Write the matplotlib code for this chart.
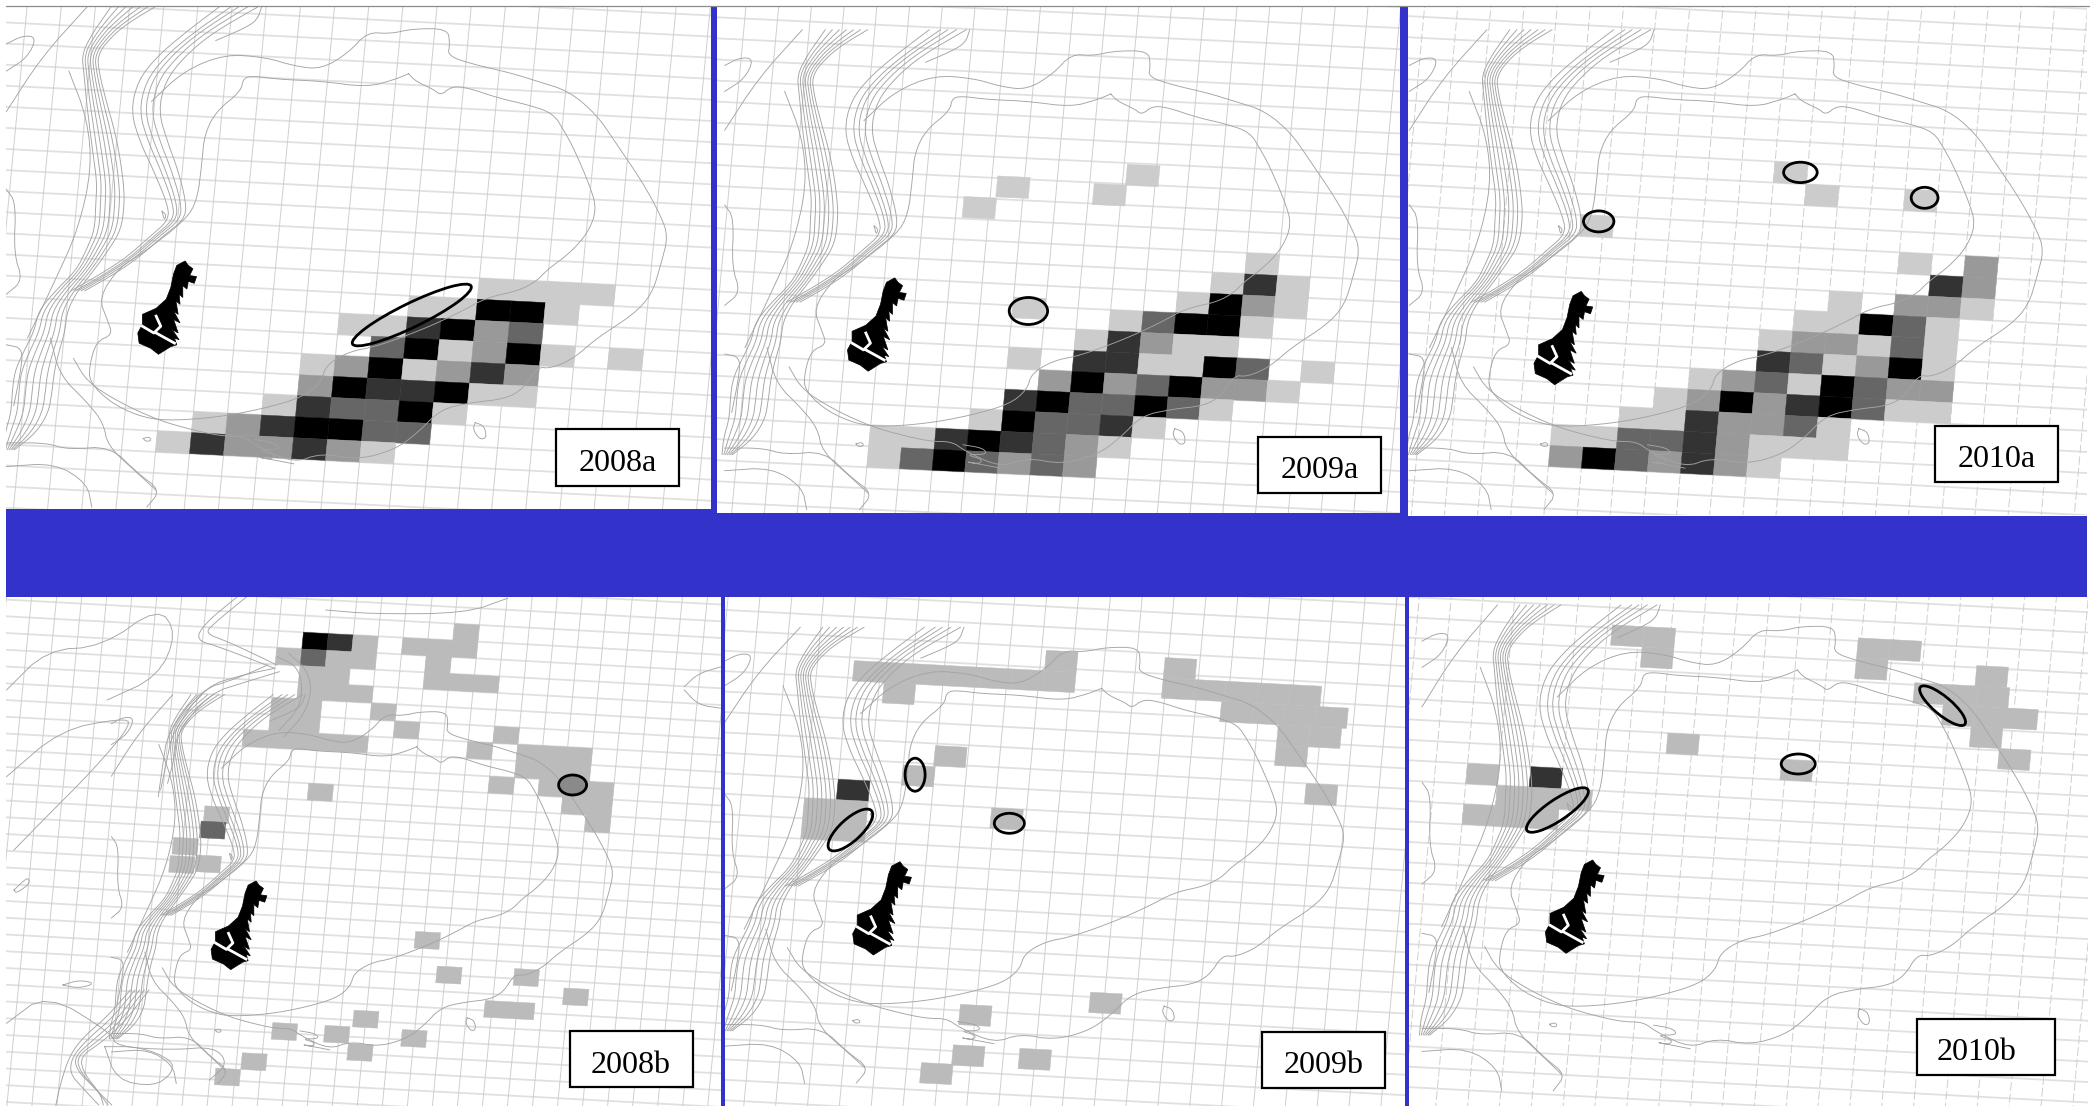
import matplotlib
matplotlib.use("Agg")
import matplotlib.pyplot as plt
from matplotlib.collections import PolyCollection, LineCollection
from matplotlib.patches import Ellipse, Rectangle, Polygon
import numpy as np

BLUE = "#3333cc"
W, H = 2100, 1106

# ---- cell data: grid column, grid row, density class (1 light .. 5 black)
cols_2008a = [0,1,2,3, -2,-1,0,1,2, -4,-3,-2,-1,0,1, -3,-2,-1,0,1,2,4, -5,-4,-3,-2,-1,0,1,
              -5,-4,-3,-2,-1,0,1, -6,-5,-4,-3,-2,-1, -8,-7,-6,-5,-4,-3,-2, -9,-8,-7,-6,-5,-4,-3]
rows_2008a = [-1]*4 + [0]*5 + [1]*6 + [2]*7 + [3]*7 + [4]*7 + [5]*6 + [6]*7 + [7]*7
levels_2008a = [1,1,1,1, 1,1,5,5,1, 1,1,4,5,2,3, 3,5,1,2,5,1,1, 1,2,5,1,2,4,2,
                2,5,4,4,5,1,1, 1,4,3,3,5,1, 1,2,4,5,5,3,3, 1,4,2,2,4,2,1]

cols_2009a = [-6.83,-7.8,-3.86,-2.9, 1, 0,1,2, -1,0,1,2, -6,-3,-2,-1,0,1, -4,-3,-2,-1,0,
              -6,-4,-3,-2,-1,0,1,3, -5,-4,-3,-2,-1,0,1,2, -6,-5,-4,-3,-2,-1,0, -7,-6,-5,-4,-3,-2,
              -10,-9,-8,-7,-6,-5,-4,-3, -10,-9,-8,-7,-6,-5,-4]
rows_2009a = [-5.1,-4.05,-4.95,-5.94, -2] + [-1]*3 + [0]*4 + [0.6] + [1]*5 + [2]*5 + [3]*8 + [4]*8 + [5]*7 + [6]*6 + [7]*8 + [8]*7
levels_2009a = [1,1,1,1, 1, 1,4,1, 1,5,2,1, 1,1,3,5,5,1, 1,4,2,1,1,
                1,4,4,1,1,5,3,1, 2,5,2,3,5,2,2,1, 4,5,3,3,5,3,1, 1,5,3,3,4,1,
                1,1,4,5,4,3,2,1, 1,3,5,3,2,3,2]

cols_2010a = [-3,-2,1,-8.7, 1,3, 2,3, -1,1,2,3, -2,-1,0,1,2, -3,-2,-1,0,1,2, -3,-2,-1,0,1,2,
              -5,-4,-3,-2,-1,0,1,2, -6,-5,-4,-3,-2,-1,0,1,2, -7,-6,-5,-4,-3,-2,-1,
              -9,-8,-7,-6,-5,-4,-3,-2,-1, -9,-8,-7,-6,-5,-4,-3]
rows_2010a = [-7,-6,-6,-4] + [-3]*2 + [-2]*2 + [-1]*4 + [0]*5 + [1]*6 + [2]*6 + [3]*8 + [4]*9 + [5]*7 + [6]*9 + [7]*7
levels_2010a = [1,1,1,1, 1,2, 4,2, 1,2,2,1, 1,1,5,3,1, 1,2,2,1,3,1, 4,3,1,2,5,1,
                1,2,3,1,5,3,2,2, 1,2,5,2,4,5,3,1,1, 1,1,4,2,2,3,1,
                1,1,3,3,4,2,1,1,1, 2,5,3,2,4,2,1]

cols_2008b = [0,1,2,6,4,5,6, -1,0,1,2,5, 0,1,5,6,7, 0,1,2, -1,0,3, -1,0,4,8,
              -2,-1,0,1,2,7,9,10,11, 9,10,11, 8,10,11,12, 11,12, 12, 0.8,
              -3.26,-3.35,-4.39,-4.45,-3.4,
              5.65,6.65,9.75,11.8,8.7,9.7,3.5,0.3,2.4,5.5,3.4,-0.8,-1.8]
rows_2008b = [0,0,0,-1,0,0,0, 1,1,1,1,1, 2,2,2,2,2, 3,3,3, 4,4,4, 5,5,5,5,
              6,6,6,6,6,6,6,6,6, 7,7,7, 8,8,8,8, 9,9, 10, 9,
              10.68,11.6,12.66,13.76,13.64,
              17.5,19.5,19.4,20.4,21.4,21.4,22.4,23.4,23.4,23.4,24.4,25.3,26.3]
levels_2008b = [5,4,1,1,1,1,1, 1,3,1,1,1, 1,1,1,1,1, 1,1,1, 1,1,1, 1,1,1,1,
                1,1,1,1,1,1,1,1,1, 1,1,1, 1,1,1,1, 1,1, 1, 1,
                1,3,1,1,1, 1,1,1,1,1,1,1,1,1,1,1,1,1]

cols_2009b = [0, -1,0,-1,0, 0.15,1.15,2.15,3.15,4.15,5.15,6.15, 6.15, 1.15, 2.95, 2, 4.9,
              9.9, 9.9,10.9,11.9,12.9,13.9, 11.8,12.8,13.8,14.8, 13.65,14.65, 13.65, 14.7,
              8.55,4.5,4.4,6.5,3.45]
rows_2009b = [0, 1,1,2,2, -5.85,-5.85,-5.85,-5.85,-5.85,-5.85,-5.85, -6.85, -4.85, -1.9, -0.87, 1,
              -6.8, -5.8,-5.8,-5.8,-5.8,-5.8, -4.8,-4.8,-4.8,-4.8, -3.8,-3.8, -2.8, -1,
              9.77,10.7,12.7,12.7,13.65]
levels_2009b = [4] + [1]*35

cols_2010b = [0, -2, -1,0,1, -2,-1,0, 2.14,3.14,3.14, 4.2, 7.85,
              9.9,10.9,9.9, 13.7, 11.8,12.8,13.8, 12.76,13.76,14.76, 13.7, 14.65]
rows_2010b = [0, 0, 1,1,1, 2,2,2, -7.15,-7.15,-6.15, -2, -1,
              -7.15,-7.15,-6.15, -6.1, -5.1,-5.1,-5.1, -4.1,-4.1,-4.1, -3.1, -2.1]
levels_2010b = [4] + [1]*24

# ---- bathymetry contours (map units shared by all panels)
inner_x = [890,905,945,960,985,1020,1085,1150,1205,1230,1250,1285,1300,1280,1240,1190,1170,1130,1060,1000,920,820,760,710,700,660,570,470,360,300,240,195,195,210,245,235,215,260,310,405,430,440,445,470,525,530,555,610,700,800,860,890]
inner_y = [218,240,265,282,255,260,290,310,335,390,440,550,620,690,750,800,830,860,880,925,975,1025,1040,1080,1130,1175,1210,1235,1245,1230,1190,1130,1080,1010,990,950,880,790,750,650,590,480,400,330,270,230,225,235,240,258,235,218]
outer_x = [330,400,490,580,640,700,760,800,850,900,975,980,975,1030,1110,1170,1240,1300,1340,1400,1440,1455,1440,1420,1380,1300,1250,1200,1170,1140,1100,1030,960,910,860,780,700,640,560,530,480,400,340,260,190,160]
outer_y = [300,210,160,170,195,205,155,95,100,85,85,130,165,190,215,240,270,340,420,540,640,700,780,870,930,1000,1060,1090,1085,1150,1180,1190,1210,1280,1330,1360,1340,1370,1320,1290,1290,1265,1240,1190,1130,1060]
bundle1_x = [290,255,225,195,200,210,222,232,240,240,235,212,185,145,115,108,90,75,70,65,45,20]
bundle1_y = [20,60,100,160,220,300,380,460,540,600,680,740,800,860,920,980,1040,1100,1160,1220,1280,1330]
bundle1_spread = [2,1.4,1,.7,.7,.9,1.1,1.2,1.2,1.3,1.2,1,.8,1,1.3,1.4,1.6,1.8,1.8,1.7,1.4,.5]
bundle1_offsets = [-24,-16,-8,0,8,16,24]
bundle2_x = [520,430,370,330,315,335,360,385,385,340,290,235,170]
bundle2_y = [20,100,170,240,330,420,500,600,650,700,760,810,860]
bundle2_spread = [1.4,1,1,1,1,1,.9,.7,.55,.45,.45,.5,.5]
bundle2_offsets = [-30,-12,0,14,30]
left_lines = [
    ([190,90,14], [20,170,330]),
    ([14,50,80,60,14], [130,105,110,170,210]),
    ([150,190,200,170,120,60], [210,350,500,680,830,1000]),
    ([14,35,30,50,14], [560,600,750,830,870]),
    ([14,50,45,30], [1020,1030,1100,1200]),
    ([110,130,190,225,235,300,340], [1000,1110,1190,1250,1320,1400,1450]),
    ([14,120,190,200], [1380,1370,1430,1500]),
    ([14,100,150,240,300,350,320], [1310,1310,1330,1320,1400,1450,1500]),
    ([570,560,530,470], [20,60,85,120]),
    ([1035,1055,1060,1045,1030,1035], [1250,1260,1295,1300,1270,1250]),
    ([312,325,330,318,312], [1297,1292,1303,1306,1297]),
    ([555,600,610,560,600,590,555,640], [1300,1310,1330,1330,1345,1360,1350,1372]),
    ([353,362,358,353], [625,635,652,625]),
]
marker_x = [385,403,410,420,413,428,423,410,407,398,398,390,392,383,388,378,392,378,388,375,390,380,385,372,345,328,303,300,310,310,340,362,372,378]
marker_y = [785,772,785,795,815,818,838,832,855,845,880,870,900,890,930,920,955,945,985,975,1005,1000,1020,1025,1048,1030,1015,985,960,930,912,885,850,810]
river_x = [310,335,350,340]
river_y = [965,985,965,935]
river2_x = [340,380]
river2_y = [985,1015]

# extras seen only in the wider 2008b window (crop units)
extra_2008b = [
    ([590,520,440,370,360,345], [235,255,290,430,500,600]),
    ([575,510,430,360,350,340], [225,265,300,430,520,620]),
    ([600,530,450,380,375,360], [245,275,310,430,500,580]),
    ([595,640,650,640,600], [200,230,300,360,420]),
    ([620,660,670,650,610], [190,240,310,380,440]),
    ([510,440,420,470,590], [20,100,150,170,235]),
    ([530,460,440,490,595], [20,100,130,155,225]),
    ([700,800,1000,1090], [60,72,70,25]),
    ([14,100,220,340,380,340,230], [300,180,170,50,130,260,330]),
    ([14,130,260,285,200,100,30], [560,420,385,400,540,680,780]),
    ([300,250,200,160,165,200,240], [1200,1290,1350,1400,1440,1490,1545]),
    ([310,258,208,165,172,208,232], [1200,1295,1355,1400,1445,1500,1545]),
    ([320,265,215,172,180,215,222], [1200,1300,1360,1400,1450,1510,1545]),
    ([290,240,190,155,150,175,212], [1200,1285,1345,1400,1450,1490,1545]),
    ([280,230,180,150,130,120], [1200,1280,1340,1395,1480,1545]),
    ([14,100,240,250,370,460,490,450], [1300,1210,1330,1370,1380,1370,1420,1470]),
    ([225,300,370,370,330,250,225], [1370,1370,1410,1450,1490,1470,1370]),
    ([1470,1500,1550], [290,250,230]),
    ([1470,1500,1550], [300,345,355]),
    ([30,60,65,35,30], [900,860,880,910,900]),
    ([135,170,205,170,135], [1185,1170,1180,1195,1185]),
]
extra_2008b_crop = (0, 590, 2.148, 3.0)

# ---- panel geometry
panels = [
    dict(name="2008a", rect=(6,6,711,509), cols=cols_2008a, rows=rows_2008a, levels=levels_2008a,
         anchor=(477.5,299.2), cstep=(34,1.7), rstep=(-2.0,21),
         mp=(408.6,73.7), ms=(1,1), tip=(183.7,261), mk=1.0, dash=False,
         box=(556.5,428.7,679.5,485.8), tx=618,
         ell=[(411.8,315,66,12,-26,None)]),
    dict(name="2009a", rect=(717,6,1400,513), cols=cols_2009a, rows=rows_2009a, levels=levels_2009a,
         anchor=(1210.4,293.4), cstep=(32.6,1.52), rstep=(-1.95,21),
         mp=(1110.8,94), ms=(.96,.959), tip=(893.4,277.9), mk=1.0, dash=False,
         box=(1258,436.8,1381,492.9), tx=1319.5,
         ell=[(1028.4,311,19.2,13.5,0,None)]),
    dict(name="2010a", rect=(1408,6,2087,515.5), cols=cols_2010a, rows=rows_2010a, levels=levels_2010a,
         anchor=(1860.7,313.7), cstep=(33,1.7), rstep=(-1.92,21),
         mp=(1795,94), ms=(.959,.959), tip=(1579.9,291.4), mk=1.0, dash=True,
         box=(1934.8,426,2058.5,481.7), tx=1996.5,
         ell=[(1598.7,221.4,15.2,10.5,0,None),(1800.4,172.4,16.8,10.2,0,None),(1924.6,197.8,13.4,10.5,0,None)]),
    dict(name="2008b", rect=(6,597,721,1106), cols=cols_2008b, rows=rows_2008b, levels=levels_2008b,
         anchor=(303.5,632.3), cstep=(24.9,1.34), rstep=(-1.63,16.66),
         mp=(416.7,746.7), ms=(.759,.777), tip=(254.7,881), mk=.95, dash=False,
         box=(569.8,1030.9,692.7,1087.4), tx=631,
         ell=[(572.6,785,14,10,0,"#8a8a8a")]),
    dict(name="2009b", rect=(725,597,1405,1106), cols=cols_2009b, rows=rows_2009b, levels=levels_2009b,
         anchor=(838.3,779.3), cstep=(31.7,1.67), rstep=(-1.92,20.33),
         mp=(1101.7,688.3), ms=(.938,.911), tip=(898.6,861.7), mk=1.0, dash=False,
         box=(1262.4,1031.7,1385,1087.7), tx=1323.5,
         ell=[(850.4,830,28.6,11,-42.5,None),(915.1,774.7,10,16.5,0,None),(1009.3,823.3,15,10,0,None)]),
    dict(name="2010b", rect=(1409,597,2088,1106), cols=cols_2010b, rows=rows_2010b, levels=levels_2010b,
         anchor=(1531,766.7), cstep=(31.7,1.67), rstep=(-1.89,20.33),
         mp=(1797.3,670), ms=(.933,.971), tip=(1591.3,860), mk=1.0, dash=True,
         box=(1917,1018.9,2055,1074.6), tx=1977,
         ell=[(1557.4,810,36.7,10.5,-34,None),(1942.6,705.7,29,9,40,None),(1798.2,764,17,10,0,None)]),
]

top_gray = {1:"#cccccc",2:"#999999",3:"#666666",4:"#333333",5:"#000000"}
bot_gray = {1:"#bbbbbb",2:"#999999",3:"#666666",4:"#333333",5:"#000000"}

fig = plt.figure(figsize=(W/100, H/100), dpi=100, facecolor="white")
bg = fig.add_axes([0,0,1,1]); bg.set_xlim(0,W); bg.set_ylim(H,0); bg.axis("off")

def base(u, v):
    return np.asarray(u,float)/2.178, np.asarray(v,float)/2.958
peak = (890/2.178, 218/2.958)

def soften(x, y, n=2):
    """corner-cutting so the contour polylines render as smooth curves"""
    p = np.c_[x, y]
    for _ in range(n):
        q = 0.75*p[:-1] + 0.25*p[1:]
        s = 0.25*p[:-1] + 0.75*p[1:]
        m = np.empty((2*len(q), 2)); m[0::2] = q; m[1::2] = s
        p = np.vstack([p[0], m, p[-1]])
    return p[:,0], p[:,1]

for pi, p in enumerate(panels):
    x0,y0,x1,y1 = p["rect"]
    ax = fig.add_axes([x0/W, 1-y1/H, (x1-x0)/W, (y1-y0)/H])
    ax.set_xlim(x0,x1); ax.set_ylim(y1,y0)
    ax.set_xticks([]); ax.set_yticks([])
    for s in ax.spines.values(): s.set_visible(False)
    a0 = np.array(p["anchor"]); cs = np.array(p["cstep"]); rs = np.array(p["rstep"])
    hs, vs = [], []
    for r in range(-45,45):
        hs.append([a0+(-40)*cs+r*rs, a0+40*cs+r*rs])
    for c in range(-40,40):
        vs.append([a0+c*cs+(-45)*rs, a0+c*cs+45*rs])
    ax.add_collection(LineCollection(hs, colors="#e0e0e0", linewidths=1.3, zorder=1))
    ax.add_collection(LineCollection(vs, colors="#cfcfcf", linewidths=0.7, zorder=1,
                                     linestyles=(0,(9,3)) if p["dash"] else "solid"))
    polys, fc = [], []
    gray = top_gray if pi < 3 else bot_gray
    for c,r,l in zip(p["cols"],p["rows"],p["levels"]):
        o = a0 + c*cs + r*rs
        polys.append([o, o+cs, o+cs+rs, o+rs]); fc.append(gray[l])
    ax.add_collection(PolyCollection(polys, facecolors=fc, edgecolors=fc, linewidths=0.3, zorder=2))
    mp = np.array(p["mp"]); ms = np.array(p["ms"])
    def tf(u,v):
        bx,by = base(u,v)
        return mp[0]+ms[0]*(bx-peak[0]), mp[1]+ms[1]*(by-peak[1])
    kw = dict(color="#a4a4a4", lw=0.65, zorder=3)
    def draw(u,v):
        ax.plot(*soften(*tf(u,v)), **kw)
    draw(inner_x,inner_y)
    draw(outer_x,outer_y)
    for off in bundle1_offsets:
        draw(np.array(bundle1_x)+off*np.array(bundle1_spread), bundle1_y)
    for off in bundle2_offsets:
        draw(np.array(bundle2_x)+off*np.array(bundle2_spread), bundle2_y)
    for u,v in left_lines:
        draw(u,v)
    if p["name"] == "2008b":
        ox,oy,kx,ky = extra_2008b_crop
        for u,v in extra_2008b:
            ax.plot(*soften(ox+np.array(u)/kx, oy+np.array(v)/ky), **kw)
    tip = np.array(p["tip"]); k = p["mk"]
    def mtf(u,v):
        bx,by = base(u,v); tx,ty = base(400,772)
        return tip[0]+k*(bx-tx), tip[1]+k*(by-ty)
    mx,my = mtf(marker_x,marker_y)
    ax.add_patch(Polygon(np.c_[mx,my], closed=True, fc="black", ec="black", lw=0.5, zorder=5))
    ax.plot(*mtf(river_x,river_y), color="white", lw=2.0, zorder=6)
    ax.plot(*mtf(river2_x,river2_y), color="white", lw=2.0, zorder=6)
    for cx,cy,a,b,ang,fill in p["ell"]:
        ax.add_patch(Ellipse((cx,cy),2*a,2*b,angle=ang,fc=fill if fill else "none",ec="black",lw=2.0,zorder=7))
    bx0,by0,bx1,by1 = p["box"]
    ax.add_patch(Rectangle((bx0,by0),bx1-bx0,by1-by0,fc="white",ec="black",lw=1.6,zorder=8))
    ax.text(p["tx"],(by0+by1)/2+6,p["name"],family="Liberation Serif",fontsize=23,
            ha="center",va="center",color="black",zorder=9)

bg.add_patch(Polygon([(6,509),(711,509),(711,513),(1400,513),(1400,515.5),(2087,515.5),(2087,597),(6,597)],closed=True,fc=BLUE,ec="none"))
for x0,x1,y0,y1 in [(711,717,6,513),(1400,1408,6,515.5),(721,725,597,1106),(1405,1409,597,1106)]:
    bg.add_patch(Rectangle((x0,y0),x1-x0,y1-y0,fc=BLUE,ec="none"))
bg.plot([6,2089],[6,6],color="#8c8c8c",lw=0.9)
bg.set_zorder(10); bg.patch.set_visible(False)

fig.savefig("out.png", dpi=100, facecolor="white")
